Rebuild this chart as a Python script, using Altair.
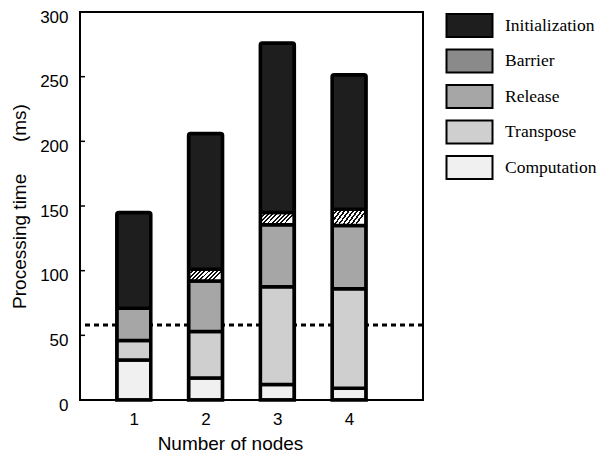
import altair as alt
import pandas as pd

nodes = [1, 2, 3, 4]
computation = [31, 17, 12, 9]
transpose = [15, 36, 75.5, 77]
release = [25, 39, 48, 49]
barrier = [0, 9, 9.5, 12.5]
initialization = [74, 105, 131, 104]
reference_level = [58]

phases = ["Initialization", "Barrier", "Release", "Transpose", "Computation"]
phase_colors = ["#1e1e1e", "#8a8a8a", "#a6a6a6", "#cfcfcf", "#f0f0f0"]
y_ticks = [0, 50, 100, 150, 200, 250, 300]
x_ticks = [1, 2, 3, 4]

series = {
    "Computation": computation,
    "Transpose": transpose,
    "Release": release,
    "Barrier": barrier,
    "Initialization": initialization,
}
stack_order = ["Computation", "Transpose", "Release", "Barrier", "Initialization"]
rows = []
for phase in stack_order:
    for n, v in zip(nodes, series[phase]):
        if v > 0:
            rows.append({"nodes": n, "phase": phase, "time": v, "order": stack_order.index(phase)})
df = pd.DataFrame(rows)


def hatch(y2, count):
    stops = []
    p = 1.0 / count
    for k in range(count):
        a = k * p
        stops += [
            {"offset": round(a, 4), "color": "#111111"},
            {"offset": round(a + 0.45 * p, 4), "color": "#111111"},
            {"offset": round(a + 0.45 * p, 4), "color": "#ffffff"},
            {"offset": round(a + p, 4), "color": "#ffffff"},
        ]
    return {"gradient": "linear", "x1": 0, "y1": 0, "x2": 1, "y2": y2, "stops": stops}


bar_hatch = hatch(0.35, 9)

SANS = "Liberation Sans"
SERIF = "Liberation Serif"

xscale = alt.Scale(domain=[0.32, 4.96], nice=False, zero=False)
yscale = alt.Scale(domain=[0, 300], nice=False)

bars = alt.Chart(df).mark_bar(
    size=34, stroke="black", strokeWidth=3.5,
    cornerRadiusTopLeft=2, cornerRadiusTopRight=2,
).encode(
    x=alt.X("nodes:Q", scale=xscale, axis=alt.Axis(
        values=x_ticks, format="d", title="Number of nodes", ticks=False, domain=False,
        grid=False, labelFont=SANS, labelFontSize=17, labelPadding=11, labelColor="black",
        titleFont=SANS, titleFontSize=19, titleFontWeight="normal", titlePadding=7,
        titleColor="black", titleX=150,
    )),
    y=alt.Y("time:Q", stack="zero", scale=yscale, axis=alt.Axis(
        values=y_ticks, title="Processing time\u00a0\u00a0\u00a0\u00a0\u00a0\u00a0(ms)",
        ticks=False, domain=False, grid=False, labelFont=SANS, labelFontSize=17,
        labelPadding=12, labelOffset=5, labelColor="black", titleFont=SANS,
        titleFontSize=19, titleFontWeight="normal", titlePadding=10, titleColor="black",
    )),
    color=alt.condition(
        alt.datum.phase == "Barrier",
        alt.value(bar_hatch),
        alt.Color("phase:N", scale=alt.Scale(domain=phases, range=phase_colors), legend=alt.Legend(
            title=None, orient="none", legendX=377, legendY=1,
            symbolType="M-2,-1H2V1H-2Z", symbolSize=529, symbolStrokeColor="black",
            symbolStrokeWidth=2, symbolOpacity=1,
            labelFont=SERIF, labelFontSize=17.5, labelColor="black", labelOffset=23,
            rowPadding=4.5,
        )),
    ),
    order=alt.Order("order:Q"),
)

ref = alt.Chart(pd.DataFrame({"level": reference_level})).mark_rule(
    color="black", strokeWidth=3, strokeDash=[5, 4]
).encode(y=alt.Y("level:Q", scale=yscale))

ticks = alt.Chart(pd.DataFrame({"v": y_ticks})).mark_rule(
    color="black", strokeWidth=1.5
).encode(y=alt.Y("v:Q", scale=yscale), x=alt.value(0), x2=alt.value(5))

chart = alt.layer(ref, bars, ticks).properties(
    width=343, height=388,
    autosize=alt.AutoSizeParams(type="none"),
    padding={"left": 72, "top": 4, "right": 176, "bottom": 54},
    background="white",
).configure_view(stroke="black", strokeWidth=2)

chart.save("out.html", embed_options={"renderer": "svg", "actions": False})
